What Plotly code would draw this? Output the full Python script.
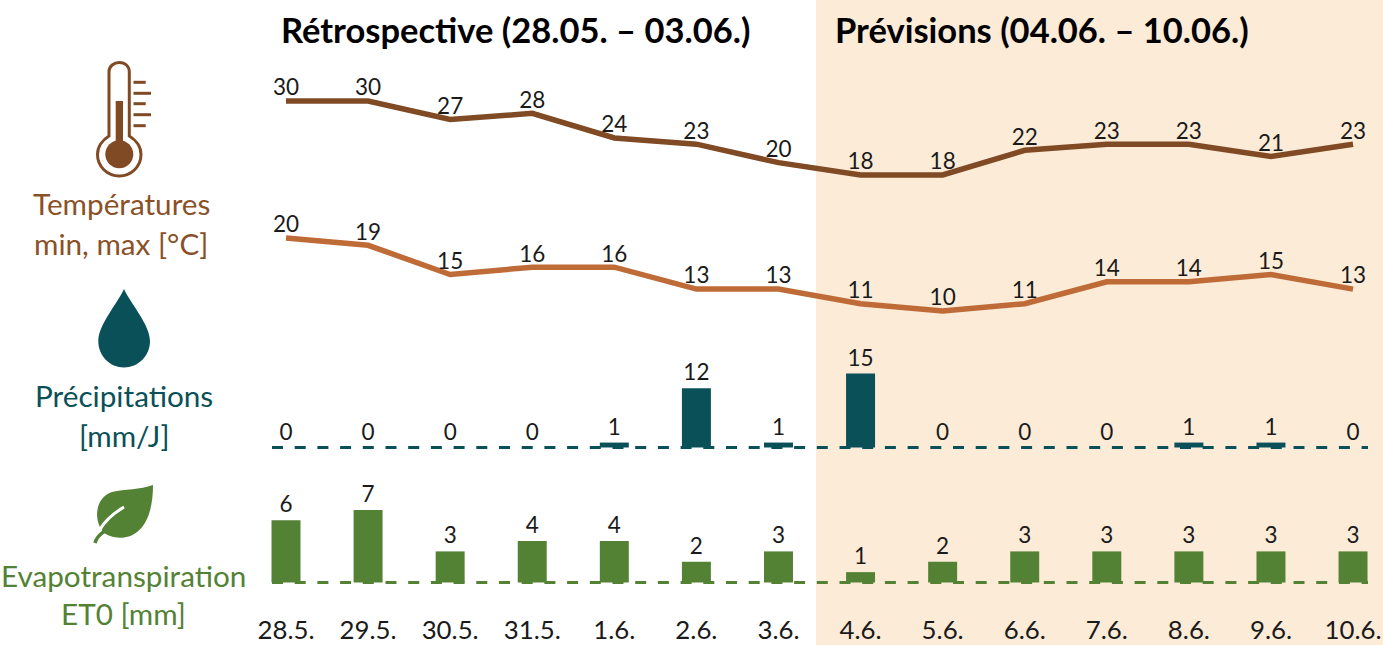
import re
import plotly.graph_objects as go

# ---------- data ----------
dates = ["28.5.", "29.5.", "30.5.", "31.5.", "1.6.", "2.6.", "3.6.",
         "4.6.", "5.6.", "6.6.", "7.6.", "8.6.", "9.6.", "10.6."]
temp_max = [30, 30, 27, 28, 24, 23, 20, 18, 18, 22, 23, 23, 21, 23]
temp_min = [20, 19, 15, 16, 16, 13, 13, 11, 10, 11, 14, 14, 15, 13]
precip = [0, 0, 0, 0, 1, 12, 1, 15, 0, 0, 0, 1, 1, 0]
et0 = [6, 7, 3, 4, 4, 2, 3, 1, 2, 3, 3, 3, 3, 3]
title_past = "Rétrospective (28.05. – 03.06.)"
title_future = "Prévisions (04.06. – 10.06.)"

# ---------- style ----------
W, H = 1383, 645
FONT = "Lato"
BROWN = "#7F4A24"
BROWN_TXT = "#8A5128"
ORANGE = "#BF6B38"
TEAL = "#0A5058"
GREEN = "#548235"
BAND = "#FBEBD7"
INK = "#1A1A1A"
VAL = 22.5


def yrange(v0, px0, v1, px1):
    """Axis range so that value v0 sits at pixel px0 and v1 at pixel px1."""
    s = (px1 - px0) / (v1 - v0)
    return [v0 + (H - px0) / s, v0 + (0 - px0) / s]


XR = [(0 - 286) / 82.08, (W - 286) / 82.08]
idx = list(range(len(dates)))

fig = go.Figure()
fig.add_trace(go.Scatter(x=idx, y=temp_max, mode="lines+text", text=temp_max, textposition="top center",
                         line=dict(color=BROWN, width=5.5), yaxis="y", cliponaxis=False,
                         textfont=dict(size=VAL, color=INK, family=FONT)))
fig.add_trace(go.Scatter(x=idx, y=temp_min, mode="lines+text", text=temp_min, textposition="top center",
                         line=dict(color=ORANGE, width=5.5), yaxis="y2", cliponaxis=False,
                         textfont=dict(size=VAL, color=INK, family=FONT)))
for vals, color, ax in ((precip, TEAL, "y3"), (et0, GREEN, "y4")):
    fig.add_trace(go.Bar(x=idx, y=vals, width=0.353, marker=dict(color=color, line=dict(width=0)),
                         text=vals, textposition="outside", textangle=0, yaxis=ax, cliponaxis=False,
                         textfont=dict(size=VAL, color=INK, family=FONT), constraintext="none"))


def P(s):
    return re.sub(r"(-?[\d.]+),(-?[\d.]+)",
                  lambda m: f"{float(m[1]) / W:.5f},{1 - float(m[2]) / H:.5f}", s)


def circle(cx, cy, r):
    k = 0.5523 * r
    return (f"M{cx - r},{cy} C{cx - r},{cy - k} {cx - k},{cy - r} {cx},{cy - r} "
            f"C{cx + k},{cy - r} {cx + r},{cy - k} {cx + r},{cy} "
            f"C{cx + r},{cy + k} {cx + k},{cy + r} {cx},{cy + r} "
            f"C{cx - k},{cy + r} {cx - r},{cy + k} {cx - r},{cy} Z")


def path(s, fill=None, line=None, width=0, layer="above"):
    return dict(type="path", xref="paper", yref="paper", path=P(s), layer=layer,
                fillcolor=fill or "rgba(0,0,0,0)",
                line=dict(color=line or "rgba(0,0,0,0)", width=width))


shapes = [dict(type="rect", xref="paper", yref="paper", x0=816 / W, x1=1, y0=0, y1=1,
               fillcolor=BAND, line=dict(width=0), layer="below")]
for ax, col in (("y3", TEAL), ("y4", GREEN)):
    shapes.append(dict(type="line", xref="paper", yref=ax, x0=272 / W, x1=1368 / W, y0=0, y1=0,
                       line=dict(color=col, width=2.8, dash="11px,11.7px"), layer="above"))

# thermometer icon
shapes.append(path("M109,136 L109,72 C109,66 114,62.5 119.3,62.5 C125,62.5 129.3,66 129.3,72 L129.3,136 "
                   "C136,140 141,147 141,154.5 C141,166.5 131.3,176 119.3,176 C107.3,176 97.5,166.5 97.5,154.5 "
                   "C97.5,147 102.5,140 109,136 Z", line=BROWN, width=3))
shapes.append(path(circle(119.3, 154.3, 14), fill=BROWN))
shapes.append(path("M115.7,101 L123,101 L123,145 L115.7,145 Z", fill=BROWN))
for ty, x2 in ((82.3, 145.7), (93.3, 151), (103.7, 145.7), (114.7, 151), (125.7, 145.7)):
    shapes.append(path(f"M133.5,{ty} L{x2},{ty}", line=BROWN, width=3))
# drop icon
shapes.append(path("M124,289 C117,304 98.3,325 98.3,341 C98.3,356 110,367.5 124,367.5 "
                   "C138,367.5 150,356 150,341 C150,325 131,304 124,289 Z", fill=TEAL))
# leaf icon
shapes.append(path("M153,485 C140,490 125,489 112,492 C100,496 96,508 97.3,518 C98,524 101,530 104,533 "
                   "C110,537 117,538 123,537.7 C140,536 153,520 153,485 Z", fill=GREEN))
shapes.append(path("M124,507 C114,513 105,520 99,531", line="#FFFFFF", width=3))
shapes.append(path("M95,543 C96,539 100,534 105,531", line=GREEN, width=3.5))


def note(text, x, y, size=29.7, color=INK, anchor="center", bold=False):
    return dict(text=f"<b>{text}</b>" if bold else text, x=x / W, y=1 - y / H, xref="paper", yref="paper",
                xanchor=anchor, yanchor="middle", showarrow=False,
                font=dict(size=size, color=color, family=FONT))


annotations = [
    note(title_past, 279, 30, 34.5, "#000000", "left", True),
    note(title_future, 833, 30, 34.5, "#000000", "left", True),
    note("Températures", 121, 203, color=BROWN_TXT),
    note("min, max [°C]", 121, 243, color=BROWN_TXT),
    note("Précipitations", 124, 395, color=TEAL),
    note("[mm/J]", 124, 435, color=TEAL),
    note("Evapotranspiration", 123, 575, color=GREEN),
    note("ET0 [mm]", 123, 613, color=GREEN),
]


def yax(rng, **kw):
    return dict(domain=[0, 1], range=rng, visible=False, fixedrange=True, **kw)


fig.update_layout(
    width=W, height=H, autosize=False, margin=dict(l=0, r=0, t=0, b=0, pad=0),
    paper_bgcolor="white", plot_bgcolor="rgba(0,0,0,0)", showlegend=False,
    font=dict(family=FONT, color=INK), shapes=shapes, annotations=annotations, barmode="overlay",
    xaxis=dict(domain=[0, 1], range=XR, tickvals=idx, ticktext=dates, showgrid=False, zeroline=False,
               showline=False, ticks="", anchor="free", position=1 - 612 / H,
               tickfont=dict(size=25.8, color=INK, family=FONT), tickangle=0, fixedrange=True),
    yaxis=yax(yrange(30, 101, 18, 175)),
    yaxis2=yax(yrange(20, 238, 10, 311), overlaying="y"),
    yaxis3=yax(yrange(0, 447.5, 15, 373.5), overlaying="y"),
    yaxis4=yax(yrange(0, 582.5, 6, 520.3), overlaying="y"),
)
fig.write_html("out.html", config=dict(displayModeBar=False),
               post_script="document.body.style.margin='0';")
